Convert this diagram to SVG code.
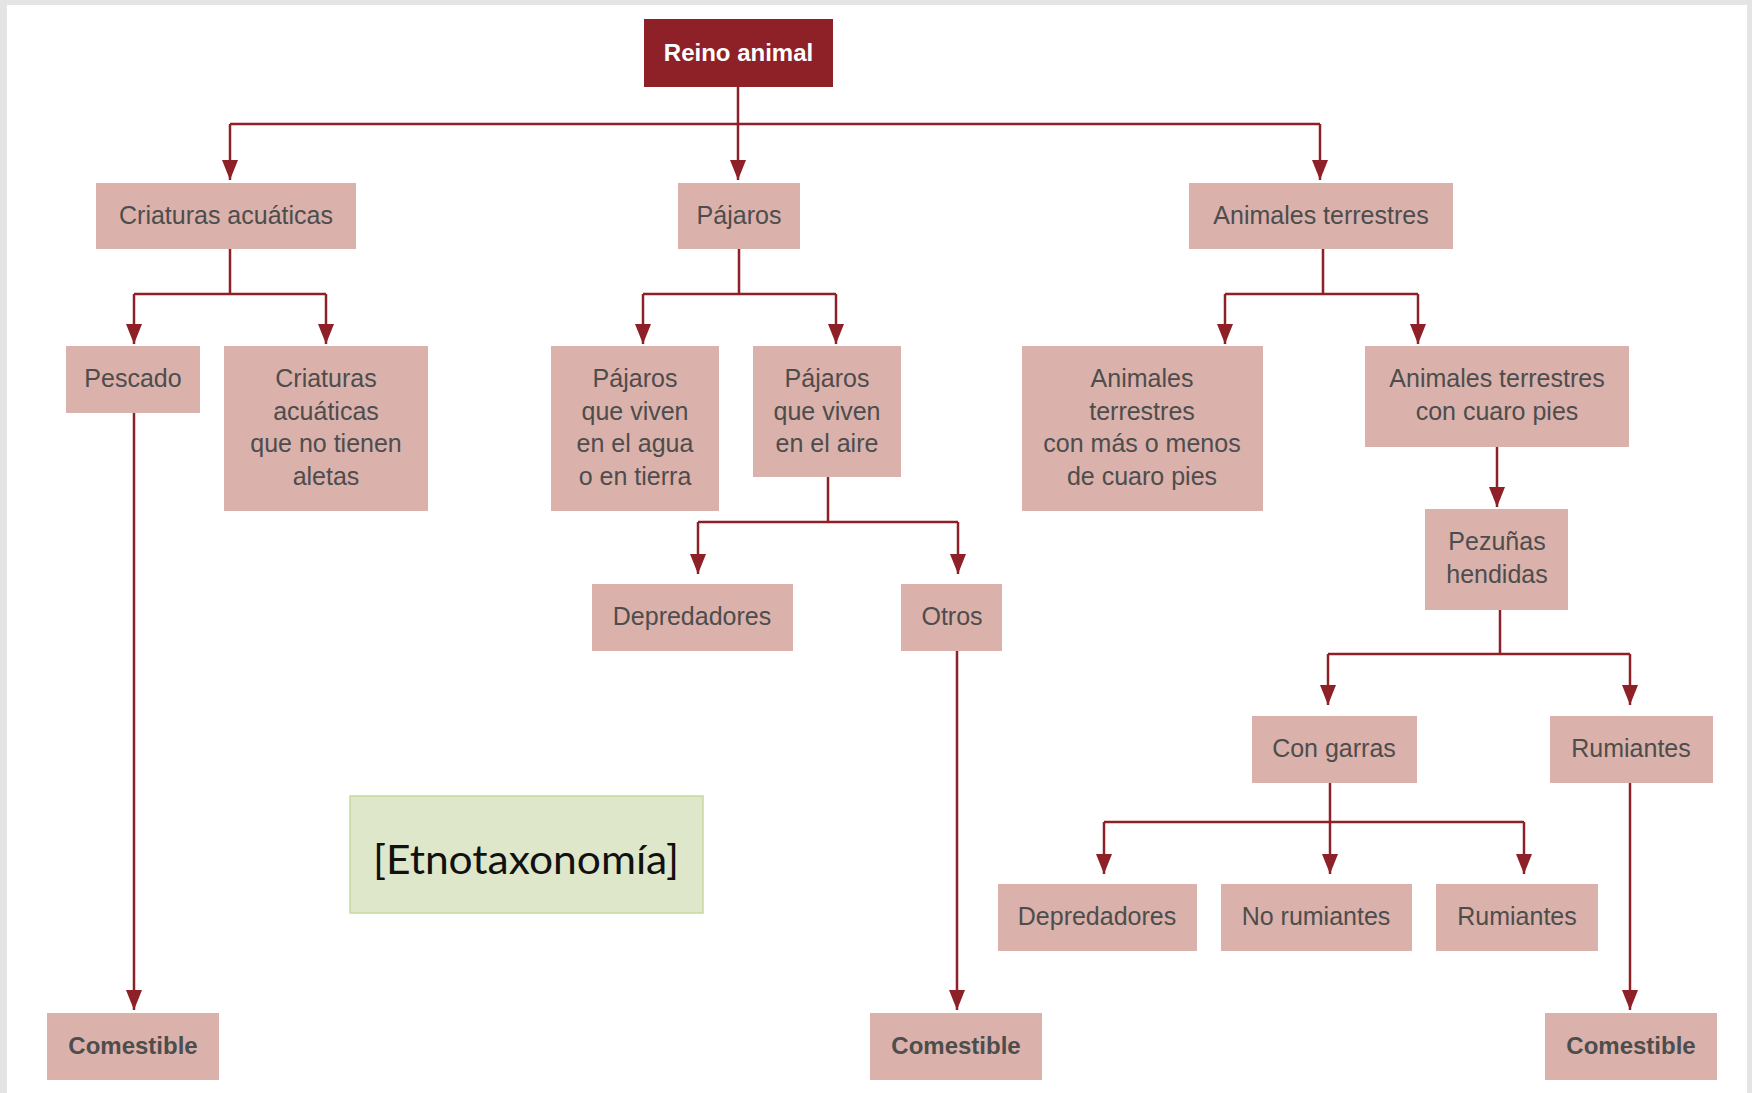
<svg xmlns="http://www.w3.org/2000/svg" width="1752" height="1093" viewBox="0 0 1752 1093">
<defs>
<style>
.box{fill:#dbb1ab;}
.t{font-family:"Liberation Sans",Arial,sans-serif;font-size:25px;fill:#4d4d4d;text-anchor:middle;}
.b{font-family:"Liberation Sans",Arial,sans-serif;font-size:24px;font-weight:bold;fill:#4d4d4d;text-anchor:middle;}
.c{fill:none;stroke:#8e2127;stroke-width:2.5;}
.a{fill:none;stroke:#8e2127;stroke-width:2.5;marker-end:url(#arr);}
</style>
<marker id="arr" viewBox="0 0 20 16" refX="20" refY="8" markerWidth="20" markerHeight="16" markerUnits="userSpaceOnUse" orient="auto">
<path d="M0,0 L20,8 L0,16 z" fill="#8e2127"/>
</marker>
</defs>
<rect x="0" y="0" width="1752" height="1093" fill="#e4e4e4"/>
<rect x="7" y="5" width="1740" height="1088" fill="#ffffff"/>

<g id="connectors">
<path class="c" d="M738,87 V124 M230,124 H1320"/>
<path class="a" d="M230,124 V180"/>
<path class="a" d="M738,124 V180"/>
<path class="a" d="M1320,124 V180"/>
<path class="c" d="M230,249 V294 M134,294 H326"/>
<path class="a" d="M134,294 V344"/>
<path class="a" d="M326,294 V344"/>
<path class="c" d="M739,249 V294 M643,294 H836"/>
<path class="a" d="M643,294 V344"/>
<path class="a" d="M836,294 V344"/>
<path class="c" d="M1323,249 V294 M1225,294 H1418"/>
<path class="a" d="M1225,294 V344"/>
<path class="a" d="M1418,294 V344"/>
<path class="a" d="M134,413 V1010"/>
<path class="c" d="M828,477 V522 M698,522 H958"/>
<path class="a" d="M698,522 V574"/>
<path class="a" d="M958,522 V574"/>
<path class="a" d="M957,651 V1010"/>
<path class="a" d="M1497,447 V507"/>
<path class="c" d="M1500,610 V654 M1328,654 H1630"/>
<path class="a" d="M1328,654 V705"/>
<path class="a" d="M1630,654 V705"/>
<path class="c" d="M1330,783 V822 M1104,822 H1524"/>
<path class="a" d="M1104,822 V874"/>
<path class="a" d="M1330,822 V874"/>
<path class="a" d="M1524,822 V874"/>
<path class="a" d="M1630,783 V1010"/>
</g>

<g id="reino">
<rect x="644" y="19" width="189" height="68" fill="#8e2127"/>
<text x="738.5" y="61" class="b" style="fill:#ffffff">Reino animal</text>
</g>
<g id="criaturas">
<rect class="box" x="96" y="183" width="260" height="66"/>
<text x="226" y="224" class="t">Criaturas acuáticas</text>
</g>
<g id="pajaros">
<rect class="box" x="678" y="183" width="122" height="66"/>
<text x="739" y="224" class="t">Pájaros</text>
</g>
<g id="terrestres">
<rect class="box" x="1189" y="183" width="264" height="66"/>
<text x="1321" y="224" class="t">Animales terrestres</text>
</g>
<g id="pescado">
<rect class="box" x="66" y="346" width="134" height="67"/>
<text x="133" y="387" class="t">Pescado</text>
</g>
<g id="sin-aletas">
<rect class="box" x="224" y="346" width="204" height="165"/>
<text class="t"><tspan x="326" y="387">Criaturas</tspan><tspan x="326" y="420">acuáticas</tspan><tspan x="326" y="452">que no tienen</tspan><tspan x="326" y="485">aletas</tspan></text>
</g>
<g id="pajaros-agua">
<rect class="box" x="551" y="346" width="168" height="165"/>
<text class="t"><tspan x="635" y="387">Pájaros</tspan><tspan x="635" y="420">que viven</tspan><tspan x="635" y="452">en el agua</tspan><tspan x="635" y="485">o en tierra</tspan></text>
</g>
<g id="pajaros-aire">
<rect class="box" x="753" y="346" width="148" height="131"/>
<text class="t"><tspan x="827" y="387">Pájaros</tspan><tspan x="827" y="420">que viven</tspan><tspan x="827" y="452">en el aire</tspan></text>
</g>
<g id="mas-menos">
<rect class="box" x="1022" y="346" width="241" height="165"/>
<text class="t"><tspan x="1142" y="387">Animales</tspan><tspan x="1142" y="420">terrestres</tspan><tspan x="1142" y="452">con más o menos</tspan><tspan x="1142" y="485">de cuaro pies</tspan></text>
</g>
<g id="cuatro-pies">
<rect class="box" x="1365" y="346" width="264" height="101"/>
<text class="t"><tspan x="1497" y="387">Animales terrestres</tspan><tspan x="1497" y="420">con cuaro pies</tspan></text>
</g>
<g id="depredadores-aves">
<rect class="box" x="592" y="584" width="201" height="67"/>
<text x="692" y="625" class="t">Depredadores</text>
</g>
<g id="otros">
<rect class="box" x="901" y="584" width="101" height="67"/>
<text x="952" y="625" class="t">Otros</text>
</g>
<g id="pezunas">
<rect class="box" x="1425" y="509" width="143" height="101"/>
<text class="t"><tspan x="1497" y="550">Pezuñas</tspan><tspan x="1497" y="583">hendidas</tspan></text>
</g>
<g id="con-garras">
<rect class="box" x="1252" y="716" width="165" height="67"/>
<text x="1334" y="757" class="t">Con garras</text>
</g>
<g id="rumiantes">
<rect class="box" x="1550" y="716" width="163" height="67"/>
<text x="1631" y="757" class="t">Rumiantes</text>
</g>
<g id="depredadores">
<rect class="box" x="998" y="884" width="199" height="67"/>
<text x="1097" y="925" class="t">Depredadores</text>
</g>
<g id="no-rumiantes">
<rect class="box" x="1221" y="884" width="191" height="67"/>
<text x="1316" y="925" class="t">No rumiantes</text>
</g>
<g id="rumiantes-2">
<rect class="box" x="1436" y="884" width="162" height="67"/>
<text x="1517" y="925" class="t">Rumiantes</text>
</g>
<g id="comestible-1">
<rect class="box" x="47" y="1013" width="172" height="67"/>
<text x="133" y="1054" class="b">Comestible</text>
</g>
<g id="comestible-2">
<rect class="box" x="870" y="1013" width="172" height="67"/>
<text x="956" y="1054" class="b">Comestible</text>
</g>
<g id="comestible-3">
<rect class="box" x="1545" y="1013" width="172" height="67"/>
<text x="1631" y="1054" class="b">Comestible</text>
</g>
<g id="etnotaxonomia">
<rect x="350" y="796" width="353" height="117" fill="#dee7c9" stroke="#c6da9e" stroke-width="1.5"/>
<text x="526" y="874" font-family="Lato,'Open Sans',sans-serif" font-size="40" fill="#111111" text-anchor="middle" textLength="306" lengthAdjust="spacingAndGlyphs">[Etnotaxonomía]</text>
</g>
</svg>
